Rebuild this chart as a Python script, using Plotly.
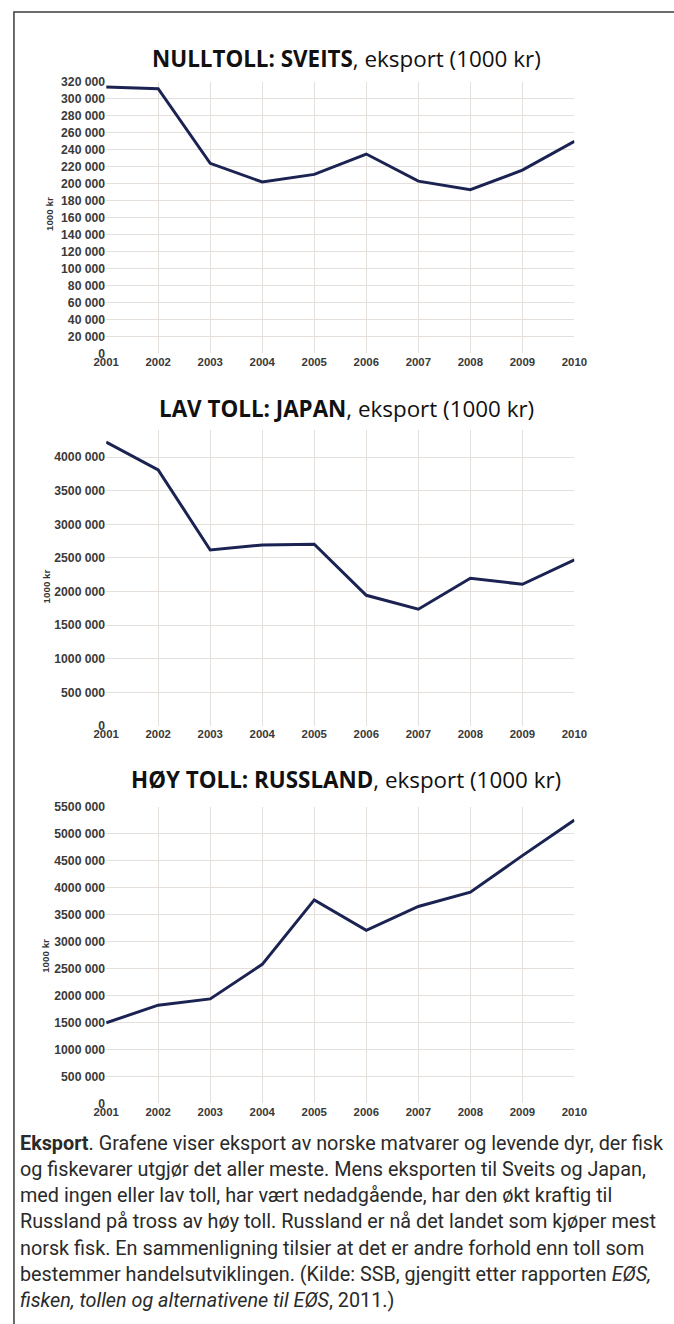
import plotly.graph_objects as go

W, H = 674, 1324

years = [2001, 2002, 2003, 2004, 2005, 2006, 2007, 2008, 2009, 2010]
sveits = [314000, 312000, 224000, 202000, 211000, 235000, 203000, 193000, 216000, 250000]
japan = [4226000, 3810000, 2619000, 2694000, 2704000, 1944000, 1736000, 2197000, 2108000, 2470000]
russland = [1492000, 1819000, 1936000, 2577000, 3773000, 3206000, 3650000, 3915000, 4593000, 5253000]

sveits_ticks = list(range(0, 320001, 20000))
sveits_ticktext = ["0"] + [f"{v // 1000} 000" for v in sveits_ticks[1:]]
japan_ticks = list(range(0, 4000001, 500000))
japan_ticktext = ["0"] + [f"{v // 1000} 000" for v in japan_ticks[1:]]
russ_ticks = list(range(0, 5500001, 500000))
russ_ticktext = ["0"] + [f"{v // 1000} 000" for v in russ_ticks[1:]]

titles = [
    ("NULLTOLL: SVEITS", ", eksport (1000 kr)"),
    ("LAV TOLL: JAPAN", ", eksport (1000 kr)"),
    ("HØY TOLL: RUSSLAND", ", eksport (1000 kr)"),
]

caption_lines = [
    "<b>Eksport</b>. Grafene viser eksport av norske matvarer og levende dyr, der fisk",
    "og fiskevarer utgjør det aller meste. Mens eksporten til Sveits og Japan,",
    "med ingen eller lav toll, har vært nedadgående, har den økt kraftig til",
    "Russland på tross av høy toll. Russland er nå det landet som kjøper mest",
    "norsk fisk. En sammenligning tilsier at det er andre forhold enn toll som",
    "bestemmer handelsutviklingen. (Kilde: SSB, gjengitt etter rapporten <i>EØS,</i>",
    "<i>fisken, tollen og alternativene til EØS</i>, 2011.)",
]

# the photographed page shows a slight inset; target positions are given in
# picture pixels and converted to page pixels here
SX, OX = 0.965, 11.5
SY, OY = 0.991, 5.0


def px(x):
    return ((x - OX) / SX) / W


def py(y):
    return 1 - ((y - OY) / SY) / H


LINE = "#1b2352"
GRID = "#e4dfdb"
YTICKFONT = dict(family="Liberation Sans, Arial, sans-serif", size=12.2, color="#3a3a3a", weight="bold")
XTICKFONT = dict(family="Liberation Sans, Arial, sans-serif", size=11.4, color="#3a3a3a", weight="bold")

fig = go.Figure()

panels = [
    (sveits, 320000, sveits_ticks, sveits_ticktext, 80, 352),
    (japan, 4400000, japan_ticks, japan_ticktext, 429, 725),
    (russland, 5500000, russ_ticks, russ_ticktext, 806, 1103),
]

x_left, x_right = 105, 575

for i, (vals, ymax, tv, tt, top, bot) in enumerate(panels):
    n = "" if i == 0 else str(i + 1)
    fig.add_trace(go.Scatter(
        x=years, y=vals, mode="lines",
        line=dict(color=LINE, width=3),
        xaxis="x" + n, yaxis="y" + n, showlegend=False,
    ))
    fig.layout["xaxis" + n] = dict(
        domain=[px(x_left), px(x_right)], anchor="y" + n,
        range=[2001, 2010], tickvals=years, ticktext=[str(y) for y in years],
        showgrid=True, gridcolor=GRID, gridwidth=1, zeroline=False,
        showline=False, ticks="", tickfont=XTICKFONT, fixedrange=True,
    )
    fig.layout["yaxis" + n] = dict(
        domain=[py(bot), py(top)], anchor="x" + n,
        range=[0, ymax], tickvals=tv, ticktext=tt,
        showgrid=True, gridcolor=GRID, gridwidth=1, zeroline=False,
        showline=False, ticks="", tickfont=YTICKFONT, fixedrange=True,
    )

annotations = []
title_y = [57, 407, 779]
for (b, r), ty in zip(titles, title_y):
    annotations.append(dict(
        x=px(346), y=py(ty), xref="paper", yref="paper",
        text=f"<b>{b}</b>{r}", showarrow=False, xanchor="center", yanchor="middle",
        font=dict(family="Open Sans, sans-serif", size=22.4, color="#111111"),
    ))

ytitle_pos = [(48, 212), (45, 585), (44, 955)]
for (xx, yy) in ytitle_pos:
    annotations.append(dict(
        x=px(xx), y=py(yy), xref="paper", yref="paper", text="<b>1000 kr</b>",
        showarrow=False, textangle=-90, xanchor="center", yanchor="middle",
        font=dict(family="Liberation Sans, Arial, sans-serif", size=9.8, color="#333333"),
    ))

cap_y0, cap_dy = 1143, 26.3
for k, line in enumerate(caption_lines):
    annotations.append(dict(
        x=px(17), y=py(cap_y0 + k * cap_dy), xref="paper", yref="paper",
        text=line, showarrow=False, xanchor="left", yanchor="middle", align="left",
        font=dict(family="Roboto, sans-serif", size=19.8, color="#2a2a2a"),
    ))

shapes = [dict(type="rect", xref="paper", yref="paper",
               x0=1 / W, x1=px(720), y0=py(10), y1=py(1400),
               line=dict(color="#3c3c3c", width=1.5), fillcolor="rgba(0,0,0,0)")]

fig.update_layout(
    width=W, height=H, autosize=False,
    margin=dict(l=0, r=0, t=0, b=0),
    paper_bgcolor="white", plot_bgcolor="white",
    annotations=annotations,
    shapes=shapes,
)

fig.write_html("out.html", config={"displayModeBar": False},
               post_script="document.body.style.margin='0';document.body.style.overflow='hidden';")
